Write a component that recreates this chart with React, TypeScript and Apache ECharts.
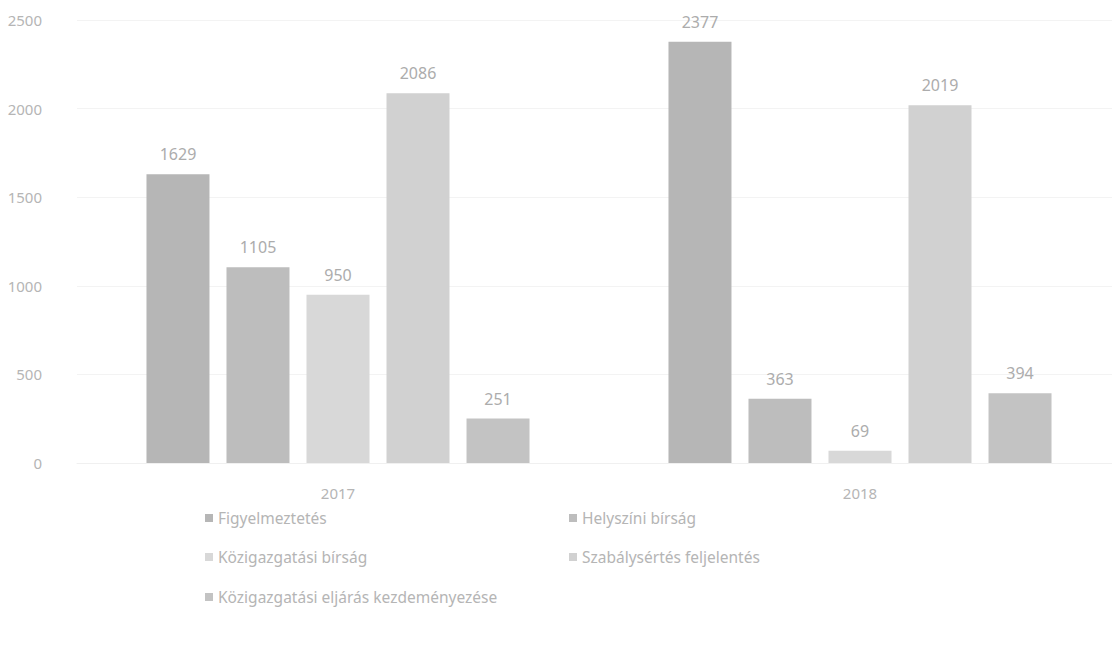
import React, { useEffect, useRef } from "react";
import * as echarts from "echarts";

const categories = ["2017", "2018"];
const seriesNames = [
  "Figyelmeztetés",
  "Helyszíni bírság",
  "Közigazgatási bírság",
  "Szabálysértés feljelentés",
  "Közigazgatási eljárás kezdeményezése",
];
const figyelmeztetes = [1629, 2377];
const helyszini = [1105, 363];
const kozigBirsag = [950, 69];
const szabalysertes = [2086, 2019];
const kozigEljaras = [251, 394];
const seriesValues = [figyelmeztetes, helyszini, kozigBirsag, szabalysertes, kozigEljaras];
const colors = ["#b6b6b6", "#bdbdbd", "#d8d8d8", "#d1d1d1", "#c3c3c3"];
const yTicks = [0, 500, 1000, 1500, 2000, 2500];

const textColor = "#b5b5b5";
const font = "'Noto Sans', 'Open Sans', sans-serif";

export default function App() {
  const ref = useRef<HTMLDivElement>(null);
  useEffect(() => {
    if (!ref.current) return;
    const chart = echarts.init(ref.current, null, { renderer: "svg" });
    const legendPos = [
      { left: 200, top: 505 },
      { left: 564, top: 505 },
      { left: 200, top: 544 },
      { left: 564, top: 544 },
      { left: 200, top: 584 },
    ];
    chart.setOption({
      animation: false,
      color: colors,
      textStyle: { fontFamily: font },
      grid: { left: 77, top: 20, width: 1044, height: 443, containLabel: false },
      legend: seriesNames.map((n, i) => ({
        data: [n],
        left: legendPos[i].left,
        top: legendPos[i].top,
        icon: "rect",
        itemWidth: 8,
        itemHeight: 8,
        itemGap: 6,
        textStyle: { color: textColor, fontSize: 15.5, fontFamily: font },
        selectedMode: false,
      })),
      xAxis: {
        type: "category",
        data: categories,
        axisLine: { show: true, lineStyle: { color: "#f0f0f0" } },
        axisTick: { show: false },
        axisLabel: { color: textColor, fontSize: 15, margin: 22, fontFamily: font },
      },
      yAxis: {
        type: "value",
        min: yTicks[0],
        max: yTicks[yTicks.length - 1],
        interval: 500,
        axisLine: { show: false },
        axisTick: { show: false },
        splitLine: { lineStyle: { color: "#f3f3f3" } },
        axisLabel: {
          color: textColor,
          fontSize: 15,
          margin: 35,
          fontFamily: font,
          formatter: (v: number) => String(v),
        },
      },
      series: seriesNames.map((n, i) => ({
        name: n,
        type: "bar",
        data: seriesValues[i],
        barWidth: 63,
        barGap: "27%",
        itemStyle: { color: colors[i] },
        label: {
          show: true,
          position: "top",
          distance: 12,
          color: "#acacac",
          fontSize: 16,
          fontFamily: font,
        },
      })),
    });
    return () => chart.dispose();
  }, []);
  return (
    <div
      style={{
        position: "absolute",
        left: 0,
        top: 0,
        width: 1112,
        height: 645,
        overflow: "hidden",
        background: "#fff",
      }}
    >
      <div ref={ref} style={{ width: 1130, height: 645 }} />
    </div>
  );
}
